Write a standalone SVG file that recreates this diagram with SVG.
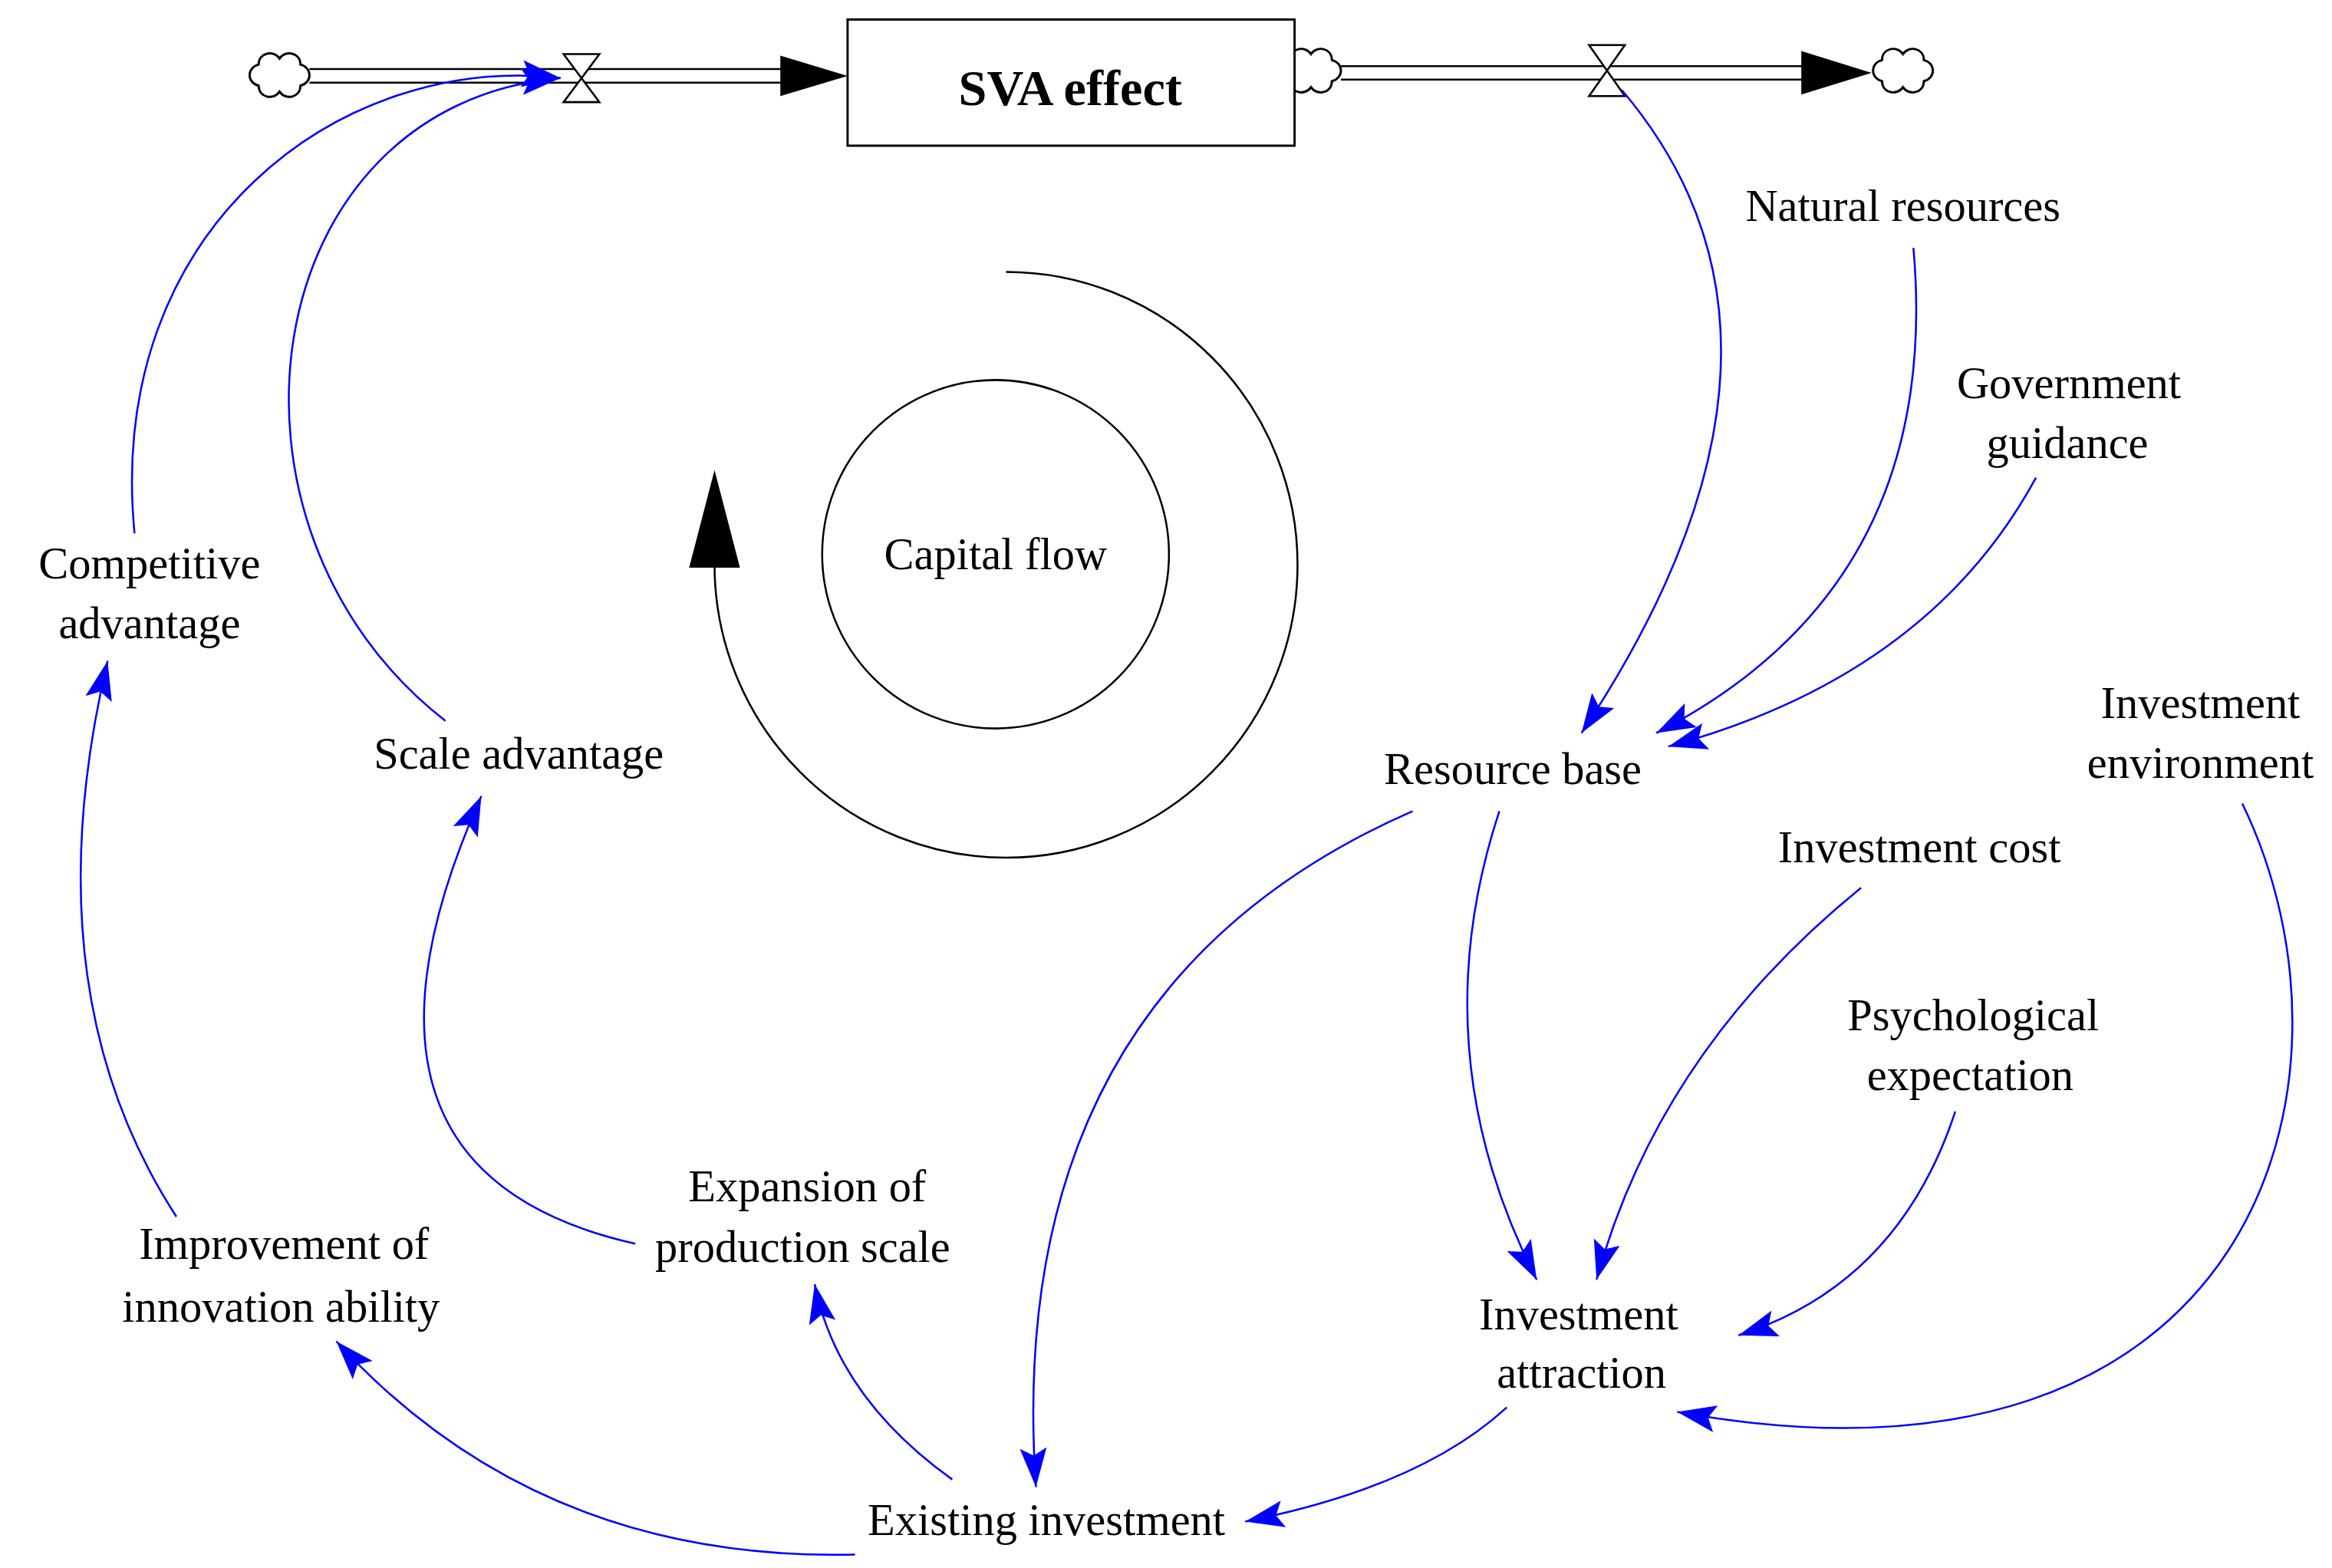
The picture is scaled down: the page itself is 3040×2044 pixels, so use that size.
<svg xmlns="http://www.w3.org/2000/svg" width="3040" height="2044" viewBox="0 0 3040 2044">
<style>
text{font-family:"Liberation Serif","Times New Roman",serif;font-size:30px;fill:#000;text-anchor:middle}
.b{fill:none;stroke:#0000ff;stroke-width:1.3}
.k{fill:none;stroke:#000;stroke-width:1.3}
.cl{fill:#fff;stroke:#000;stroke-width:1.5}
</style>
<defs>
<marker id="ah" markerUnits="userSpaceOnUse" markerWidth="30" markerHeight="20" refX="26" refY="9" orient="auto"><path d="M0,0 L26,9 L0,18 L5,9 Z" fill="#0000ff"/></marker>
<path id="cloud" d="M-14,6 C-22,4 -22,-6 -14,-8 C-14,-16 -4,-18 0,-12 C4,-18 14,-16 14,-8 C22,-6 22,4 14,6 C14,14 4,16 0,10 C-4,16 -14,14 -14,6 Z"/>
</defs>
<rect width="3040" height="2044" fill="#fff"/>
<g transform="scale(1.9487,1.958)">
<g id="flows">
<line x1="207" y1="46" x2="530" y2="46" class="k"/><line x1="207" y1="55" x2="530" y2="55" class="k"/>
<path d="M522,37 L567,50.5 L522,64 Z" fill="#000"/>
<line x1="897" y1="44" x2="1212" y2="44" class="k"/><line x1="897" y1="53" x2="1212" y2="53" class="k"/>
<path d="M1205,34 L1252,48.5 L1205,63 Z" fill="#000"/>
<path d="M377,36 L401,36 L377,68 L401,68 Z" fill="#fff" stroke="#000" stroke-width="1.3"/>
<path d="M1063,30 L1087,30 L1063,64 L1087,64 Z" fill="#fff" stroke="#000" stroke-width="1.3"/>
<use href="#cloud" x="187" y="51" class="cl"/>
<use href="#cloud" x="877" y="48" class="cl"/>
<use href="#cloud" x="1273" y="48" class="cl"/>
</g>
<g id="sva"><rect x="567" y="13" width="299" height="84" fill="#fff" stroke="#000" stroke-width="1.5"/><text x="716" y="70" style="font-weight:bold;font-size:34px">SVA effect</text></g>
<g id="capital">
<circle cx="666" cy="369" r="116" class="k"/>
<text x="666" y="379">Capital flow</text>
<path d="M673,181 A195,195 0 1 1 478,376" class="k"/>
<path d="M461,378 L478,313 L495,378 Z" fill="#000"/>
</g>
<g id="n1"><text x="1273" y="147">Natural resources</text></g>
<g id="n2"><text x="1384" y="265">Government</text><text x="1383" y="305">guidance</text></g>
<g id="n3"><text x="1472" y="478">Investment</text><text x="1472" y="518">environment</text></g>
<g id="n4"><text x="1012" y="522">Resource base</text></g>
<g id="n5"><text x="1284" y="574">Investment cost</text></g>
<g id="n6"><text x="1320" y="686">Psychological</text><text x="1318" y="726">expectation</text></g>
<g id="n7"><text x="1056" y="885">Investment</text><text x="1058" y="924">attraction</text></g>
<g id="n8"><text x="700" y="1022">Existing investment</text></g>
<g id="n9"><text x="540" y="800">Expansion of</text><text x="537" y="840">production scale</text></g>
<g id="n10"><text x="190" y="838">Improvement of</text><text x="188" y="880">innovation ability</text></g>
<g id="n11"><text x="100" y="385">Competitive</text><text x="100" y="425">advantage</text></g>
<g id="n12"><text x="347" y="512">Scale advantage</text></g>
<g id="links" marker-end="url(#ah)">
<path class="b" d="M1085,60 Q1230,230 1058,488"/>
<path class="b" d="M1280,165 Q1300,390 1108,488"/>
<path class="b" d="M1362,318 Q1290,450 1116,497"/>
<path class="b" d="M945,540 Q670,660 693,990"/>
<path class="b" d="M1003,540 Q950,700 1028,852"/>
<path class="b" d="M1245,591 Q1110,700 1068,852"/>
<path class="b" d="M1308,740 Q1270,855 1163,889"/>
<path class="b" d="M1500,535 C1590,720 1510,1010 1122,940"/>
<path class="b" d="M1008,937 Q950,990 833,1013"/>
<path class="b" d="M637,985 Q560,930 545,855"/>
<path class="b" d="M572,1035 Q360,1040 225,893"/>
<path class="b" d="M425,828 Q210,780 322,530"/>
<path class="b" d="M118,810 Q20,660 72,440"/>
<path class="b" d="M298,480 C130,350 170,70 375,52"/>
<path class="b" d="M90,355 C70,150 230,35 375,52"/>
</g>
</g>
</svg>
